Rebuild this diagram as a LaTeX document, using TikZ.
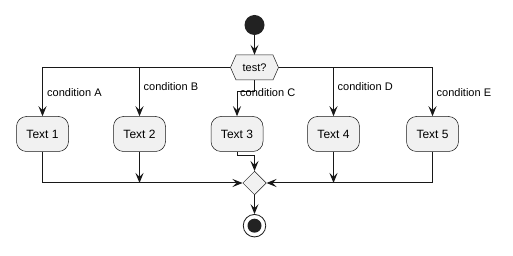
\documentclass[tikz,border=0pt]{standalone}
\usepackage{fontspec}
\setmainfont{Liberation Sans}
\usetikzlibrary{arrows.meta,shapes.geometric}
\definecolor{boxfill}{HTML}{F1F1F1}
\definecolor{ink}{HTML}{181818}
\definecolor{dot}{HTML}{222222}
\begin{document}
\begin{tikzpicture}[x=1pt,y=-1pt,
  conn/.style={draw=ink,line width=1pt},
  arr/.style={conn,-{Stealth[length=10pt,width=8pt,inset=4pt]}},
  actbox/.style={draw=ink,line width=0.5pt,fill=boxfill,rounded corners=10pt,
    minimum width=52pt,minimum height=35pt,inner sep=0pt,font=\fontsize{12}{14}\selectfont},
  lbl/.style={anchor=west,inner sep=0pt,font=\fontsize{11}{13}\selectfont},
  merge/.style={diamond,draw=ink,line width=0.5pt,fill=boxfill,minimum width=23.5pt,minimum height=23.5pt,inner sep=0pt}
]
\useasboundingbox (0,0) rectangle (513,256);
% start
\node[circle,fill=dot,minimum size=20pt,inner sep=0pt] (start) at (254.5,25) {};
% hexagon
\draw[draw=ink,line width=0.5pt,fill=boxfill] (230.5,67.5) -- (236,55) -- (273,55) -- (278.5,67.5) -- (273,80) -- (236,80) -- cycle;
\node[minimum width=48pt,minimum height=25pt,inner sep=0pt,font=\fontsize{11}{13}\selectfont] (hex) at (254.5,67.5) {test?};
% actions
\node[actbox] (t1) at (42.5,134) {Text 1};
\node[actbox] (t2) at (139.5,134) {Text 2};
\node[actbox] (t3) at (237,134) {Text 3};
\node[actbox] (t4) at (333.5,134) {Text 4};
\node[actbox] (t5) at (432.5,134) {Text 5};
% merge and end
\node[merge] (dm) at (254.5,183) {};
\node[circle,draw=ink,line width=0.8pt,fill=white,minimum size=22.5pt,inner sep=0pt] (end) at (254.5,225.7) {};
\node[circle,fill=dot,minimum size=14pt,inner sep=0pt] (endin) at (end.center) {};
\coordinate (cbend) at (254.5,92);
\coordinate (tbend) at (237,156);
% connectors
\draw[arr] (start) -- (hex.north);
\draw[arr] (hex.west) -| (t1.north);
\draw[arr] (hex.west) -| (t2.north);
\draw[arr] (hex.south) -- (cbend) -| (t3.north);
\draw[arr] (hex.east) -| (t4.north);
\draw[arr] (hex.east) -| (t5.north);
\node[lbl] (la) at (47,93) {condition A};
\node[lbl] (lb) at (143.5,87) {condition B};
\node[lbl] (lc) at (240,93) {condition C};
\node[lbl] (ld) at (337.5,87) {condition D};
\node[lbl] (le) at (436.5,92.5) {condition E};
\draw[arr] (t1.south) |- (dm.west);
\draw[arr] (t2.south) -- (t2.south |- dm.west);
\draw[arr] (t3.south) -- (tbend) -| (dm.north);
\draw[arr] (t5.south) |- (dm.east);
\draw[arr] (t4.south) -- (t4.south |- dm.east);
\draw[arr] (dm.south) -- (end.north);
\end{tikzpicture}
\end{document}
